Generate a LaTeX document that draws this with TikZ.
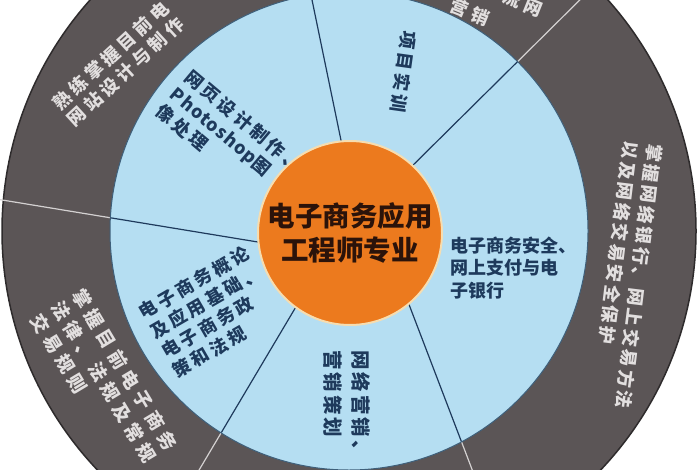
\documentclass[tikz,border=0pt]{standalone}
\usepackage{fontspec}
\usepackage{tikz}
\newfontfamily\cjk{Noto Sans CJK SC}
\definecolor{ringgray}{HTML}{5B5556}
\definecolor{ringedge}{HTML}{2E2B2C}
\definecolor{skyblue}{HTML}{B5DEF2}
\definecolor{skyedge}{HTML}{3E5F7A}
\definecolor{navytext}{HTML}{1E3A5C}
\definecolor{ringtext}{HTML}{E2DFDF}
\definecolor{coreorange}{HTML}{EC7A1E}
\definecolor{corerim}{HTML}{F6DDB0}
\definecolor{coretext}{HTML}{2B130A}
\tikzset{core/.style={circle,fill=coreorange,draw=corerim,line width=2pt,minimum size=184pt,inner sep=0pt,align=center,text=coretext,font=\cjk\bfseries\fontsize{27.5}{34}\selectfont},inner text/.style={text=navytext,align=left,inner sep=0pt,font=\cjk\bfseries\addfontfeatures{LetterSpace=18}\fontsize{18}{22.5}\selectfont},ring text/.style={text=ringtext,align=left,inner sep=0pt,font=\cjk\bfseries\addfontfeatures{LetterSpace=22}\fontsize{18}{22}\selectfont},ring divider/.style={draw=ringtext!90!ringgray,line width=1.2pt},inner divider/.style={draw=navytext,line width=1.2pt}}

\begin{document}
\begin{tikzpicture}[x=1pt,y=-1pt]
 \useasboundingbox (0,0) rectangle (700,470);
 \clip (0,0) rectangle (700,470);
 \fill[white] (0,0) rectangle (700,470);
 \coordinate (o) at (349,231);
 \fill[ringgray,draw=ringedge,line width=1.5pt] (o) circle[radius=347];

 % dividers: inner end / outer end
 \coordinate (d1-in) at (343,150); \coordinate (d1-out) at (311,-5);
 \coordinate (d2-in) at (400,178); \coordinate (d2-out) at (600,-20);
 \coordinate (d3-in) at (270,244); \coordinate (d3-out) at (-10,198);
 \coordinate (d4-in) at (300,300); \coordinate (d4-out) at (189,487);
 \coordinate (d5-in) at (405,294); \coordinate (d5-out) at (478,485);
 \foreach \i in {1,...,5} {\draw[ring divider] (d\i-in)--(d\i-out);}

 \fill[skyblue,draw=skyedge,line width=1pt] (o) circle[radius=239];
 \begin{scope}
  \clip (o) circle[radius=238.5];
  \foreach \i in {1,...,5} {\draw[inner divider] (d\i-in)--(d\i-out);}
 \end{scope}

 \node[core] (core) at (350,233) {电子商务应用\\工程师专业};

 \node[inner text,rotate=-40] (web) at (229,138) {网页设计制作、\\{\addfontfeatures{LetterSpace=6}Photoshop}图\\像处理};
 \node[inner text,rotate=-98] (project) at (404,72) {项目实训};
 \node[inner text,anchor=west,font=\cjk\bfseries\fontsize{18}{22.5}\selectfont] (security) at (450,268) {电子商务安全、\\网上支付与电\\子银行};
 \node[inner text,rotate=-90,font=\cjk\bfseries\addfontfeatures{LetterSpace=15}\fontsize{19.5}{28}\selectfont] (marketing) at (347,405) {网络营销、\\营销策划};
 \node[inner text,rotate=30] (intro) at (211,312) {电子商务概论\\及应用基础、\\电子商务政\\策和法规};

 \node[ring text,rotate=42.5] (ringWeb) at (118,64) {熟练掌握目前电\\网站设计与制作};
 \node[ring text,rotate=-59,font=\cjk\bfseries\addfontfeatures{LetterSpace=28}\fontsize{18.5}{24}\selectfont] (ringLaw) at (104,382) {掌握目前电子商务\\法律、法规及常规\\交易规则};
 \node[ring text,rotate=-97,font=\cjk\bfseries\addfontfeatures{LetterSpace=15}\fontsize{18}{24}\selectfont] (ringBank) at (627,275) {掌握网络银行、网上交易方法\\以及网络交易安全保护};
 \node[ring text,rotate=-22] (ringTopA) at (523,3) {流网};
 \node[ring text,rotate=-22] (ringTopB) at (470,12) {营销};
\end{tikzpicture}
\end{document}
